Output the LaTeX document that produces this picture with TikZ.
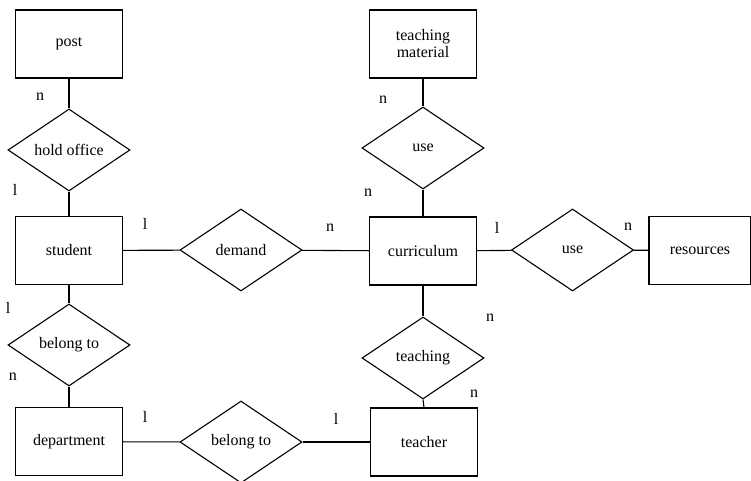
\documentclass[tikz,border=0pt]{standalone}
\usepackage{fontspec}
\setmainfont{Liberation Serif}
\usetikzlibrary{shapes.geometric}
\begin{document}
\begin{tikzpicture}[x=1pt,y=-1pt,
  entity/.style={draw,line width=1.1pt,minimum width=107pt,minimum height=68pt,inner sep=1pt,align=center,font=\fontsize{16}{17}\selectfont},
  rel/.style={draw,line width=1.1pt,shape=diamond,aspect=1.49,minimum width=122pt,minimum height=82pt,inner sep=0pt,font=\fontsize{16}{17}\selectfont},
  card/.style={font=\fontsize{16}{17}\selectfont,inner sep=0pt},
  conn/.style={line width=1.1pt}]
\useasboundingbox (0,0) rectangle (751,481);
% entities
\node[entity] (post) at (69,44) {post};
\node[entity] (student) at (69,250.5) {student};
\node[entity] (department) at (69,441.7) {department};
\node[entity] (material) at (423,44) {teaching\\material};
\node[entity] (curriculum) at (423,251) {curriculum};
\node[entity] (teacher) at (424,442) {teacher};
\node[entity,minimum width=102pt] (resources) at (700,250.5) {resources};
% relationships
\node[rel] (hold) at (69,150) {hold office};
\node[rel] (belong1) at (69,345) {belong to};
\node[rel] (demand) at (241,250) {demand};
\node[rel] (use1) at (423,148) {use};
\node[rel] (use2) at (572.5,250) {use};
\node[rel] (teaching) at (423,358) {teaching};
\node[rel] (belong2) at (241,442) {belong to};
% connectors
\draw[conn] (post) -- (hold);
\draw[conn] (hold) -- (student);
\draw[conn] (student) -- (belong1);
\draw[conn] (belong1) -- (department);
\draw[conn] (student) -- (demand);
\draw[conn] (demand) -- (curriculum);
\draw[conn] (material) -- (use1);
\draw[conn] (use1) -- (curriculum);
\draw[conn] (curriculum) -- (use2);
\draw[conn] (use2) -- (resources);
\draw[conn] (curriculum) -- (teaching);
\draw[conn] (teaching.south) -- (teacher.north);
\draw[conn] (department) -- (belong2);
\draw[conn] (belong2) -- (teacher);
% cardinalities
\node[card] (c1) at (40,97) {n};
\node[card] (c2) at (15,190) {l};
\node[card] (c3) at (145,224) {l};
\node[card] (c4) at (8,308) {l};
\node[card] (c5) at (13,377) {n};
\node[card] (c6) at (145,417) {l};
\node[card] (c7) at (383,100) {n};
\node[card] (c8) at (368,193) {n};
\node[card] (c9) at (330,228) {n};
\node[card] (c10) at (497,228) {l};
\node[card] (c11) at (490,318) {n};
\node[card] (c12) at (474,394) {n};
\node[card] (c13) at (336,419) {l};
\node[card] (c14) at (628,227) {n};
\end{tikzpicture}
\end{document}
